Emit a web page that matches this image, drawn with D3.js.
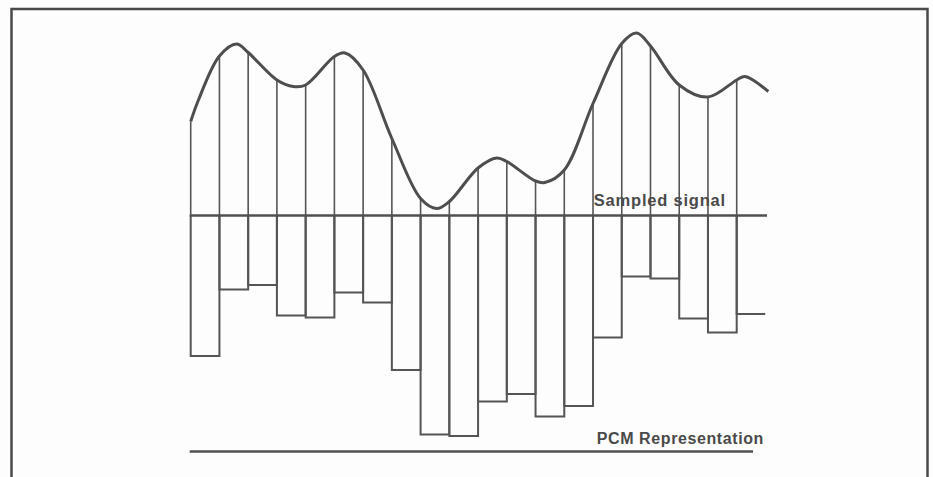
<!DOCTYPE html>
<html>
<head>
<meta charset="utf-8">
<script src="https://cdn.jsdelivr.net/npm/d3@7"></script>
<style>
    body { margin: 0; background: #fdfdfd; }
    .frame { fill: none; stroke: #4a4a4a; stroke-width: 2.5; }
    .signal { fill: none; stroke: #4e4e4e; stroke-width: 3; stroke-linejoin: round; }
    .sample { stroke: #555; stroke-width: 1.6; }
    .bar { fill: none; stroke: #555; stroke-width: 2; }
    .axis-line { stroke: #505050; stroke-width: 2.4; }
    .label { font-family: "Liberation Sans", Arial, sans-serif; font-weight: bold; fill: #4a4a4a; }
</style>
</head>
<body>
<div id="chart"></div>
<script>
// signal value at each of the 20 sample instants (0 = baseline)
let sampleValues = [94, 159.5, 163, 135.5, 130.5, 159, 145.5, 77, 17, 14,
                    47.5, 54, 34.5, 45.5, 112, 172, 169.5, 130.5, 118.5, 135.5];

// extra points: [sample index, value]
let curveExtras = [[0.27, 115.5], [1.6, 171.5], [3.57, 129], [5.37, 162.5], [8.56, 7],
                   [10.65, 57.5], [12.32, 33], [15.52, 182.5], [19.29, 139], [20.1, 124]];

// PCM level (depth below baseline) for each sample period
let pcmLevels = [140.5, 74, 69.5, 100, 102, 77, 87, 154.5, 219, 220.5,
                 186, 178.5, 201, 190.5, 122, 61, 63, 103, 117, 98.5];

let labels = ["Sampled signal", "PCM Representation"];

let W = 933, H = 477;
let base = 215.5;

let xScale = d3.scaleLinear().domain([0, 19]).range([190.7, 736.7]);
let yScale = d3.scaleLinear().domain([0, 200]).range([base, base - 200]);
let pcmScale = d3.scaleLinear().domain([0, 240]).range([base, base + 240]);

let svg = d3.select("#chart").append("svg")
    .attr("width", W)
    .attr("height", H);

// outer frame
svg.append("rect")
    .attr("class", "frame")
    .attr("x", 11.5)
    .attr("y", 9)
    .attr("width", 916)
    .attr("height", 500);

// sample lines from baseline up to the signal
svg.selectAll(".sample")
    .data(sampleValues)
    .enter().append("line")
    .attr("class", "sample")
    .attr("x1", (d, i) => xScale(i))
    .attr("x2", (d, i) => xScale(i))
    .attr("y1", base)
    .attr("y2", d => yScale(d));

// PCM bars hanging below the baseline
let lastIdx = pcmLevels.length - 1;
svg.selectAll(".bar")
    .data(pcmLevels)
    .enter().append("path")
    .attr("class", "bar")
    .attr("d", (d, i) => {
        let x0 = xScale(i), x1 = i < lastIdx ? xScale(i + 1) : xScale(i) + 28.5;
        let y = pcmScale(d);
        let p = `M${x0},${base}V${y}H${x1}`;
        if (i < lastIdx) p += `V${base}`;
        return p;
    });

// baseline
svg.append("line")
    .attr("class", "axis-line")
    .attr("x1", xScale(0) - 1)
    .attr("x2", 767)
    .attr("y1", base)
    .attr("y2", base);

// bottom rule under the PCM label
svg.append("line")
    .attr("class", "axis-line")
    .attr("x1", xScale(0) - 1)
    .attr("x2", 753)
    .attr("y1", 451.5)
    .attr("y2", 451.5);

// the continuous signal
let points = sampleValues.map((v, i) => [i, v]).concat(curveExtras)
    .sort((a, b) => a[0] - b[0]);

let line = d3.line()
    .x(d => xScale(d[0]))
    .y(d => yScale(d[1]))
    .curve(d3.curveCatmullRom.alpha(0.5));

svg.append("path")
    .datum(points)
    .attr("class", "signal")
    .attr("d", line);

svg.append("text")
    .attr("class", "label")
    .attr("x", 726)
    .attr("y", 206)
    .attr("text-anchor", "end")
    .style("font-size", "16.5px")
    .style("letter-spacing", "0.8px")
    .text(labels[0]);

svg.append("text")
    .attr("class", "label")
    .attr("x", 764)
    .attr("y", 444)
    .attr("text-anchor", "end")
    .style("font-size", "16px")
    .style("letter-spacing", "0.6px")
    .text(labels[1]);
</script>
</body>
</html>
